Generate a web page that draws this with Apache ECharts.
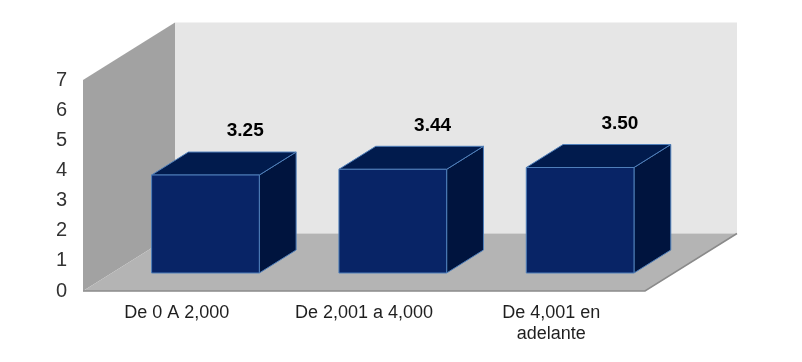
<!DOCTYPE html>
<html>
<head>
<meta charset="utf-8">
<script src="https://cdn.jsdelivr.net/npm/echarts@6/dist/echarts.min.js"></script>
<style>
html,body{margin:0;padding:0;background:#fff;}
#c{width:802px;height:362px;}
</style>
</head>
<body>
<div id="c"></div>
<script>
var categories = ['De 0 A 2,000', 'De 2,001 a 4,000', 'De 4,001 en\nadelante'];
var values = [3.25, 3.44, 3.50];
var yTicks = [0, 1, 2, 3, 4, 5, 6, 7];

var DX = 92, DY = -57.5;       // depth vector of the 3D box
var F1 = 0.313, F2 = 0.713;    // bar front / back depth fractions
var BAR_FRAC = 0.575;

var chart = echarts.init(document.getElementById('c'));

function boxRender(params, api) {
  var cs = params.coordSys;
  var x0 = cs.x, x1 = cs.x + cs.width, y0 = cs.y, y1 = cs.y + cs.height;
  return {
    type: 'group',
    children: [
      { type: 'rect', shape: { x: x0 + DX, y: y0 + DY, width: x1 - x0, height: y1 - y0 },
        style: { fill: '#e6e6e6' } },
      { type: 'polygon', shape: { points: [[x0, y0], [x0 + DX, y0 + DY], [x0 + DX, y1 + DY], [x0, y1]] },
        style: { fill: '#a2a2a2' } },
      { type: 'polygon', shape: { points: [[x0, y1], [x0 + DX, y1 + DY], [x1 + DX, y1 + DY], [x1, y1]] },
        style: { fill: '#b4b4b4' } },
      { type: 'polyline', shape: { points: [[x0, y1], [x1, y1], [x1 + DX, y1 + DY]] },
        style: { stroke: '#8a8a8a', lineWidth: 1.5, fill: null } }
    ]
  };
}

function barRender(params, api) {
  var idx = api.value(0), v = api.value(1);
  var top = api.coord([idx, v]);
  var base = api.coord([idx, 0]);
  var w = api.size([1, 0])[0] * BAR_FRAC;
  var lx = top[0] - w / 2, rx = top[0] + w / 2;
  var fx = F1 * DX, fy = F1 * DY, bx = F2 * DX, by = F2 * DY;
  var ftl = [lx + fx, top[1] + fy], ftr = [rx + fx, top[1] + fy];
  var fbr = [rx + fx, base[1] + fy], fbl = [lx + fx, base[1] + fy];
  var btl = [lx + bx, top[1] + by], btr = [rx + bx, top[1] + by];
  var bbr = [rx + bx, base[1] + by];
  var edge = { stroke: '#4f7fba', lineWidth: 1 };
  return {
    type: 'group',
    children: [
      { type: 'polygon', shape: { points: [ftr, btr, bbr, fbr] },
        style: Object.assign({ fill: '#00143e' }, edge) },
      { type: 'polygon', shape: { points: [ftl, ftr, btr, btl] },
        style: Object.assign({ fill: '#011b4d' }, edge) },
      { type: 'polygon', shape: { points: [ftl, ftr, fbr, fbl] },
        style: Object.assign({ fill: '#082466' }, edge) },
      { type: 'text',
        style: { x: (btl[0] + btr[0]) / 2 + 3, y: btl[1] - 21, text: api.value(1).toFixed(2),
                 fill: '#000', font: 'bold 19px "Liberation Sans", Arial, sans-serif',
                 textAlign: 'center', textVerticalAlign: 'middle' } }
    ]
  };
}

chart.setOption({
  animation: false,
  backgroundColor: '#ffffff',
  grid: { left: 83, top: 80, width: 562, height: 211, containLabel: false },
  xAxis: {
    type: 'category', data: categories,
    axisLine: { show: false }, axisTick: { show: false }, splitLine: { show: false },
    axisLabel: { fontSize: 18, fontFamily: '"Liberation Sans", Arial, sans-serif',
                 color: '#1f1f1f', margin: 12, lineHeight: 21 }
  },
  yAxis: {
    type: 'value', min: yTicks[0], max: yTicks[yTicks.length - 1], interval: 1,
    axisLine: { show: false }, axisTick: { show: false }, splitLine: { show: false },
    axisLabel: { fontSize: 20, fontFamily: '"Liberation Sans", Arial, sans-serif',
                 color: '#333', margin: 16 }
  },
  series: [
    { type: 'custom', renderItem: boxRender, data: [[0]], z: 1, silent: true },
    { type: 'custom', renderItem: barRender, z: 2,
      data: values.map(function (v, i) { return [i, v]; }) }
  ]
});
</script>
</body>
</html>
